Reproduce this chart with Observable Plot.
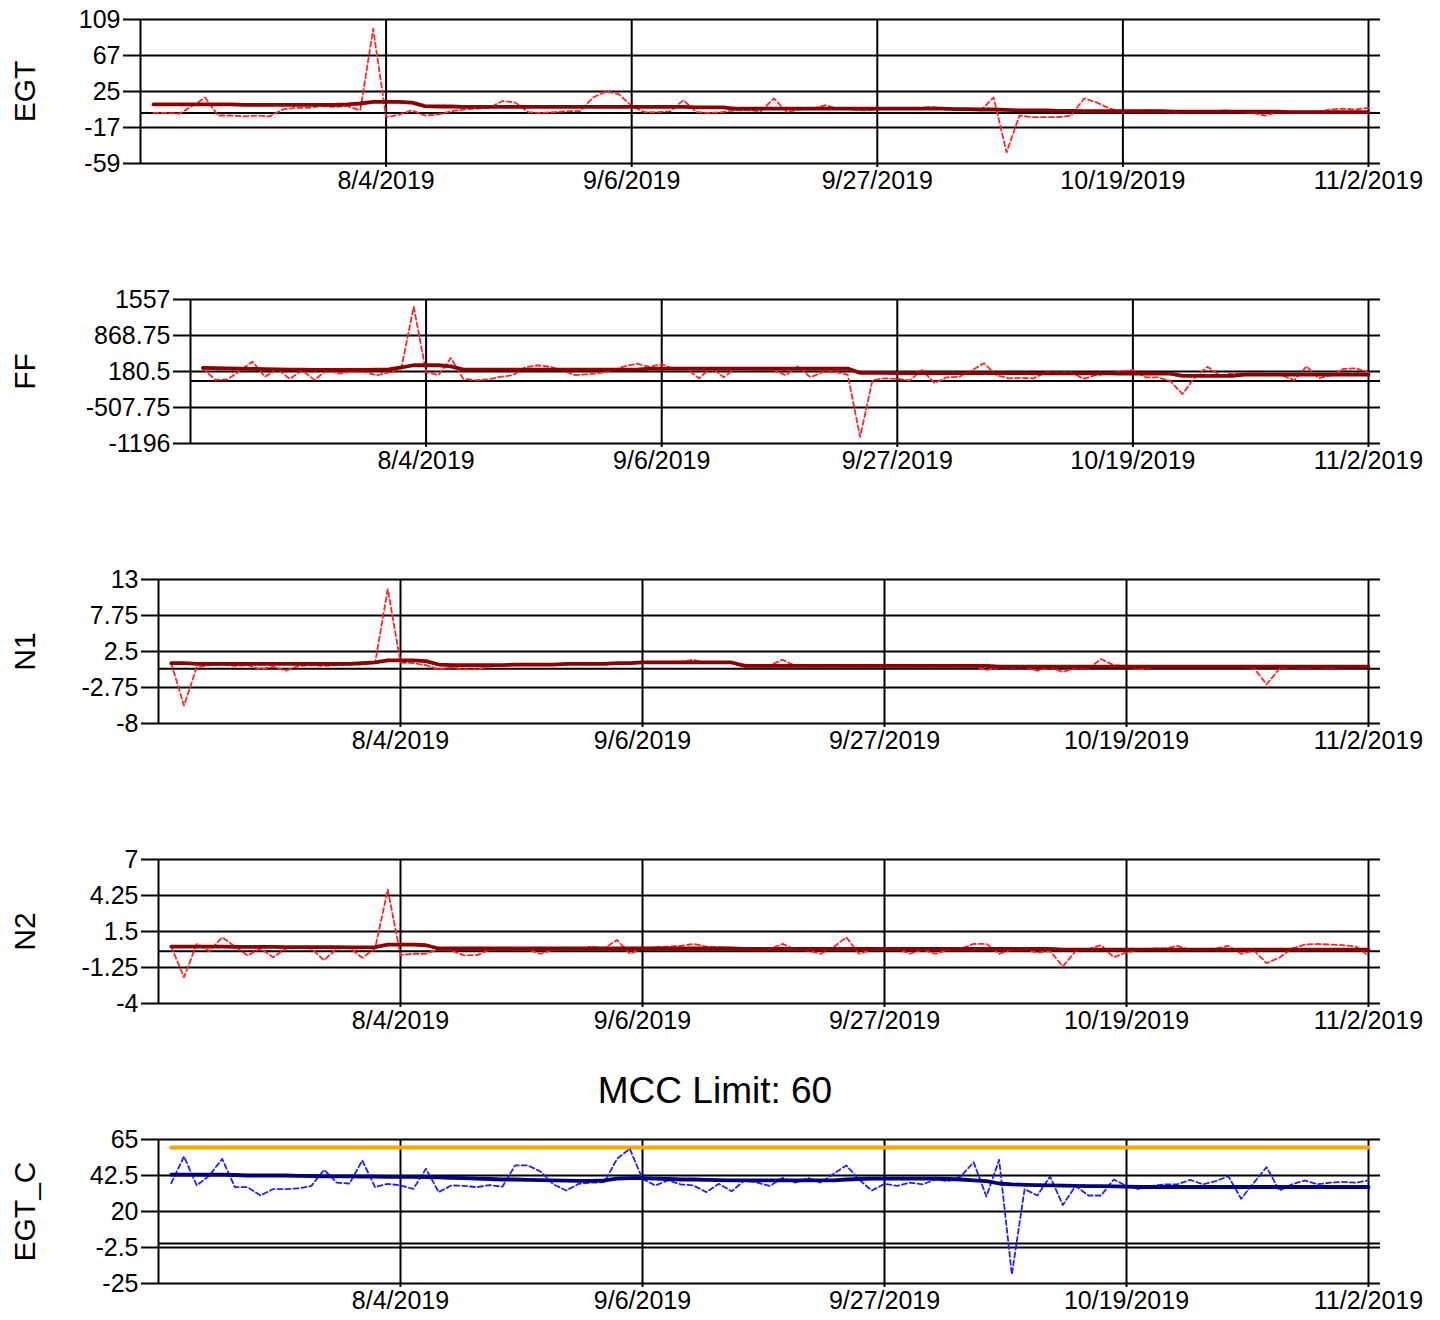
<!DOCTYPE html>
<html>
<head>
<meta charset="utf-8">
<script src="https://cdn.jsdelivr.net/npm/d3@7"></script>
<script src="https://cdn.jsdelivr.net/npm/@observablehq/plot@0.6"></script>
<style>
  body { margin: 0; background: #fff; font-family: "Liberation Sans", Arial, sans-serif; }
  #chart { position: relative; width: 1440px; height: 1320px; background: #fff; }
  .panel { position: absolute; left: 0; }
  #title { position: absolute; left: 0; width: 1430px; text-align: center; top: 1072px;
           font-size: 37px; line-height: 37px; color: #000; }
</style>
</head>
<body>
<div id="chart"></div>
<script>
// ---- x axis (points are placed by index; labels every 19 points) ----
const xTickIndex = [19, 38, 57, 76, 95];
const xTickLabels = ["8/4/2019", "9/6/2019", "9/27/2019", "10/19/2019", "11/2/2019"];

// ---- y tick values per panel ----
const egtTicks  = [109, 67, 25, -17, -59];
const ffTicks   = [1557, 868.75, 180.5, -507.75, -1196];
const n1Ticks   = [13, 7.75, 2.5, -2.75, -8];
const n2Ticks   = [7, 4.25, 1.5, -1.25, -4];
const egtcTicks = [65, 42.5, 20, -2.5, -25];

const MCC_LIMIT = 60;

// ---- series (95 points each) ----
const egt = [0,0,-1,8,18,-3,-3,-4,-3,-4, 4,6,6,8,7,8,3,98,-5,-2, 3,-3,-2,2,4,5,6,14,12,1,
  0,1,2,2,18,25,22,8,1,1, 2,15,1,0,1,3,3,2,17,1, 4,5,9,5,4,3,4,5,6,5, 7,6,5,4,3,18,-46,-3,-5,-5,
  -5,-3,17,12,5,1,2,3,1,0, 1,1,2,3,1,0,-3,1,1,0, 1,4,5,4,6];
const egtTrend = [10,10,10,10,10,10,10,9.5,9.5,9.5,9.5,9.5,9.5,9.5,9.5,10,
  11,13,13,13,12,
  8,7.5,7.5,7,7,7,7,7,7,7,7,7,7,7,7,7,7,7,7,7,7,6.5,6.5,6.5,
  5,5,5,5,5,5,5,5,5,5,5,5,5,5,5,5,5,
  4.5,4.5,4,4,3.5,3,3,3,
  2.5,2.5,2,2,2,2,2,2,2,1.5,1.5,1.5,1.5,1.5,1.5,1.5,1.5,1.5,1,1,1,1,1,1,1];

const ff = [240,20,30,200,370,80,230,40,200,20, 210,140,180,170,110,160,240,1420,170,110,
  440,40,14,30,80,110,260,300,270,200, 110,130,150,200,280,330,270,320,230,240,
  50,260,70,250,230,210,210,110,280,70, 170,170,120,-1070,14,50,40,10,210,-40,
  70,80,200,340,110,50,60,50,170,160, 170,40,110,140,180,210,70,70,0,-250,
  70,270,110,140,140,150,130,110,14,280, 50,110,230,240,160];
const ffTrend = [250,245,240,235,230,225,220,215,215,210,210,210,210,210,215,220,
  260,300,300,300,280,
  215,215,215,215,215,215,215,215,215,215,215,215,215,215,215,
  235,235,235,235,235,235,235,235,235,235,235,235,235,235,235,235,235,
  155,155,155,152,150,150,150,150,150,150,150,148,148,148,146,146,145,145,145,144,144,142,142,142,140,140,
  95,95,95,95,95,
  120,120,120,120,120,120,120,120,120,120,120];

const n1 = [0.8,-5.4,0.2,0.5,0.6,0.4,0.5,-0.1,0.3,-0.3, 0.4,0.5,0.4,0.5,0.6,0.6,0.8,11.6,0.9,0.8,
  0.5,-0.1,0.2,-0.1,-0.1,0.3,0.5,0.6,0.5,0.7, 0.6,0.7,0.8,0.6,0.8,0.7,0.9,0.8,0.9,0.8,
  1.0,1.3,0.8,0.9,0.8,0.6,0.4,0.5,1.3,0.4, 0.3,0.4,0.3,0.4,0.3,0.3,0.4,0.3,0.3,0.4,
  0.3,0.4,0.3,0.3,-0.2,0.2,0.1,0.2,-0.3,0.2, -0.5,0.1,0.0,1.4,0.5,0.4,-0.1,0.2,0.2,0.3,
  0.2,0.4,0.2,0.3,0.2,0.1,-2.3,0.0,0.2,0.1, 0.2,0.1,0.2,0.3,0.2];
const n1Trend = [0.8,0.8,0.7,0.7,0.7,0.7,0.7,0.7,0.7,0.7,0.7,0.7,0.7,0.7,0.7,0.8,0.9,
  1.2,1.2,1.2,1.1,
  0.6,0.5,0.5,0.5,0.5,0.5,0.6,0.6,0.6,0.6,0.7,0.7,0.7,0.7,0.8,0.8,
  0.9,0.9,0.9,0.9,0.9,0.9,0.9,0.9,
  0.4,0.4,0.4,0.4,0.4,0.4,0.4,0.4,0.4,0.4,0.4,0.4,0.4,0.4,0.4,0.4,0.4,0.4,0.4,0.4,
  0.3,0.3,0.3,0.3,0.3,0.3,0.3,0.3,0.3,0.3,0.3,0.3,0.3,0.3,0.3,0.3,0.3,0.3,0.3,0.3,
  0.3,0.3,0.3,0.3,0.3,0.3,0.3,0.3,0.3,0.3];

const n2 = [0.35,-2.0,0.55,0.0,1.06,0.35,-0.33,0.2,-0.46,0.2, 0.25,0.2,-0.7,0.2,0.25,-0.5,0.2,4.7,-0.3,-0.2,
  -0.2,0.15,0.05,-0.33,-0.3,0.1,0.15,0.1,0.1,-0.2, 0.1,0.15,0.1,0.35,0.2,0.86,-0.2,0.2,0.3,0.35,
  0.4,0.55,0.35,0.3,0.25,0.15,0.1,0.15,0.55,0.1, 0.05,-0.2,0.3,1.06,-0.2,0.1,0.15,0.15,-0.2,0.1,
  -0.2,0.1,0.2,0.55,0.55,-0.2,0.1,0.1,-0.1,0.0, -1.17,0.0,0.15,0.45,-0.46,-0.1,0.1,0.2,0.2,0.4,
  0.1,0.15,0.2,0.4,-0.2,0.05,-0.92,-0.5,0.2,0.5, 0.55,0.5,0.45,0.35,-0.33];
const n2Trend = [0.35,0.35,0.35,0.34,0.34,0.33,0.33,0.32,0.32,0.31,0.31,0.3,0.3,0.3,0.29,0.29,0.3,
  0.5,0.5,0.5,0.45,
  0.2,0.2,0.2,0.2,0.2,0.2,0.2,0.2,0.2,0.2,0.2,0.2,0.2,0.2,0.2,0.2,0.2,0.2,0.2,0.2,0.2,0.2,0.2,0.2,
  0.18,0.18,0.18,0.18,0.18,0.18,0.18,0.18,0.18,0.18,0.18,0.18,0.18,0.18,0.18,0.18,0.18,0.18,0.18,0.18,0.18,0.18,0.18,0.18,0.18,
  0.12,0.12,0.12,0.12,0.12,0.12,0.12,0.12,0.12,0.12,0.12,0.12,0.12,0.12,0.12,0.12,0.12,0.12,0.12,0.12,0.12,0.12,0.12,0.12,0.12];

const egtc = [37.7,54.4,36.3,42.5,52.9,35.2,35.2,30,34,34, 34.5,36,46,38,37.5,51.9,35.2,37.3,36.3,34.1,
  46.7,32.1,36.3,36,35.2,36.5,35.5,48.8,48.8,45, 37,33.1,37.3,38,38.3,52.9,59.2,40.4,36.3,39.4,
  37,36.3,32.1,37.3,32.6,39.4,38,36,41,38, 41,38,43.6,48.8,40,33.1,37.3,36,38,37,
  40,39,42,50.8,29.4,52.3,-19.4,34,30,41.9, 24,36,30,30,40,36,34,36,37,37,
  39.8,37,39,42,28,38,47.7,33.1,37,39.4, 37,38,38.5,38,39.4];
const egtcTrend = [43,43,43,43,43,42.8,
  42.5,42.5,42.5,42.5,42.3,42.2,42,42,42,41.8,41.8,41.7,41.7,41.7,
  41.5,41.3,41,40.8,40.5,40.3,40,40,39.8,39.6,39.5,39.3,39.2,39.2,39.5,
  40.5,40.8,40.8,40.5,40.3,40,40,39.8,39.6,
  39.5,39.5,39.5,39.5,39.5,39.5,39.5,39.5,39.5,
  40,40.3,40.5,40.5,40.5,40.5,40.5,40.5,40.3,40,39.5,39,
  37.5,37,36.7,36.5,36.3,36.2,36,35.9,35.8,35.7,35.6,
  35.3,35.3,35.3,35.3,35.3,35.3,35.3,35.3,35.3,35.3,35.3,35.3,35.3,35.3,35.3,35.3,35.3,35.3,35.3];

// ---- panel options ----
const RED = "#ff2626", DARKRED = "#8b0000", BLUE = "#2020ff", NAVY = "#000080", ORANGE = "#ffa500";
const panels = [
  {name: "EGT",   raw: egt,  trend: egtTrend,  ticks: egtTicks,  left: 140, top: 0,    h: 280, c1: RED,  c2: DARKRED},
  {name: "FF",    raw: ff,   trend: ffTrend,   ticks: ffTicks,   left: 190, top: 280,  h: 280, c1: RED,  c2: DARKRED},
  {name: "N1",    raw: n1,   trend: n1Trend,   ticks: n1Ticks,   left: 158, top: 560,  h: 280, c1: RED,  c2: DARKRED},
  {name: "N2",    raw: n2,   trend: n2Trend,   ticks: n2Ticks,   left: 158, top: 840,  h: 280, c1: RED,  c2: DARKRED},
  {name: "EGT_C", raw: egtc, trend: egtcTrend, ticks: egtcTicks, left: 158, top: 1120, h: 200, c1: BLUE, c2: NAVY, limit: MCC_LIMIT}
];

const chart = document.getElementById("chart");
const FONT = "'Liberation Sans', Arial, sans-serif";

for (const p of panels) {
  const rows = p.raw.map((v, k) => ({i: k + 1, v, t: p.trend[k]}));
  const right = 1380, lastTick = 1368;
  const xMax = 95 * (right - p.left) / (lastTick - p.left);
  const marks = [
    Plot.ruleY(p.ticks, {stroke: "black", strokeWidth: 2}),
    Plot.ruleX([0, ...xTickIndex], {stroke: "black", strokeWidth: 2}),
    Plot.ruleY([0], {stroke: "black", strokeWidth: 2}),
    Plot.axisY(p.ticks, {label: null, tickSize: 17, tickPadding: 3, tickFormat: d => String(d), fontSize: 25,
      stroke: "black", strokeWidth: 2, fill: "black"}),
    Plot.axisX(xTickIndex, {label: null, tickSize: 4, tickPadding: 4, fontSize: 25, stroke: "black", strokeWidth: 2, fill: "black",
      tickFormat: d => xTickLabels[xTickIndex.indexOf(d)]}),
    Plot.text([p.name], {text: d => d, frameAnchor: "left", textAnchor: "middle", lineAnchor: "middle",
      rotate: -90, dx: 25 - p.left, fontSize: 30, fill: "black"})
  ];
  if (p.limit !== undefined) {
    marks.push(Plot.line(rows, {x: "i", y: () => p.limit, stroke: ORANGE, strokeWidth: 4}));
  }
  marks.push(Plot.line(rows, {x: "i", y: "v", stroke: p.c1, strokeWidth: 1.8, strokeDasharray: "5,3"}));
  marks.push(Plot.line(rows, {x: "i", y: "t", stroke: p.c2, strokeWidth: 3.8}));

  const svg = Plot.plot({
    width: 1440, height: p.h,
    marginTop: 19, marginBottom: p.h - 19 - 144, marginLeft: p.left, marginRight: 1440 - right,
    x: {domain: [0, xMax], label: null},
    y: {domain: [p.ticks[p.ticks.length - 1], p.ticks[0]], label: null},
    style: {fontFamily: FONT, color: "black", background: "white", overflow: "visible"},
    marks
  });
  svg.classList.add("panel");
  svg.style.top = p.top + "px";
  chart.appendChild(svg);
}

const title = document.createElement("div");
title.id = "title";
title.textContent = "MCC Limit: " + MCC_LIMIT;
chart.appendChild(title);
</script>
</body>
</html>
